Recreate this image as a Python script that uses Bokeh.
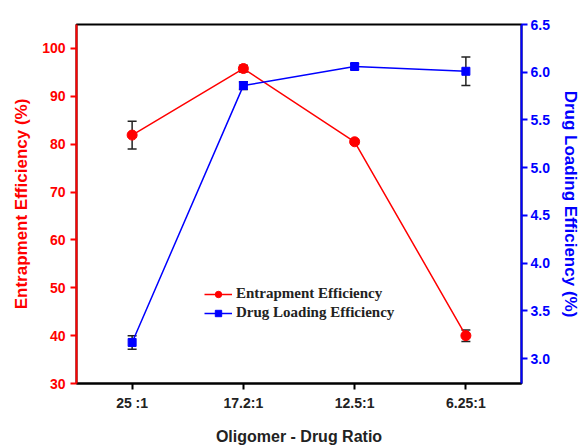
from bokeh.plotting import figure
from bokeh.models import Range1d, LinearAxis, FixedTicker, PrintfTickFormatter, Legend, LegendItem, Whisker, ColumnDataSource, TeeHead
from bokeh.embed import file_html
from bokeh.resources import INLINE

ratios = ["25 :1", "17.2:1", "12.5:1", "6.25:1"]
xpos = [1, 2, 3, 4]
entrap = [81.9, 95.8, 80.5, 40.0]
entrap_err = [2.9, 0.7, 0.5, 1.2]
loading = [3.17, 5.86, 6.06, 6.01]
loading_err = [0.07, 0.04, 0.03, 0.15]

p = figure(width=582, height=447, output_backend="svg", toolbar_location=None,
           x_range=Range1d(0.5, 4.5), y_range=Range1d(30, 105))
p.min_border_left = 76
p.min_border_right = 58
p.min_border_top = 24
p.min_border_bottom = 63
p.xgrid.visible = False
p.ygrid.visible = False
p.outline_line_color = "black"
p.outline_line_width = 2
p.extra_y_ranges = {"dl": Range1d(2.74, 6.5)}

FONT = "Liberation Sans"

# x axis
xa = p.xaxis[0]
xa.ticker = FixedTicker(ticks=xpos)
xa.major_label_overrides = {x: r for x, r in zip(xpos, ratios)}
xa.axis_label = "Oligomer - Drug Ratio"
xa.axis_line_width = 2
xa.axis_line_color = "black"
xa.major_tick_in = 0
xa.major_tick_out = 6
xa.major_tick_line_width = 2
xa.minor_tick_line_color = None
xa.major_label_text_font = FONT
xa.major_label_text_font_style = "bold"
xa.major_label_text_font_size = "14px"
xa.major_label_text_color = "#222222"
xa.axis_label_text_font = FONT
xa.axis_label_text_font_style = "bold"
xa.axis_label_text_font_size = "16px"
xa.axis_label_text_color = "#222222"
xa.axis_label_standoff = 14

# left axis
ya = p.yaxis[0]
ya.ticker = FixedTicker(ticks=[30, 40, 50, 60, 70, 80, 90, 100])
ya.axis_label = "Entrapment Efficiency (%)"
ya.axis_line_width = 2
ya.axis_line_color = "red"
ya.major_tick_line_color = "red"
ya.major_tick_line_width = 2
ya.major_tick_in = 0
ya.major_tick_out = 6
ya.minor_tick_line_color = None
ya.major_label_text_font = FONT
ya.major_label_text_font_style = "bold"
ya.major_label_text_font_size = "14px"
ya.major_label_text_color = "red"
ya.axis_label_text_font = FONT
ya.axis_label_text_font_style = "bold"
ya.axis_label_text_font_size = "17px"
ya.axis_label_text_color = "red"
ya.axis_label_standoff = 8

# right axis
ra = LinearAxis(y_range_name="dl")
ra.ticker = FixedTicker(ticks=[3.0, 3.5, 4.0, 4.5, 5.0, 5.5, 6.0, 6.5])
ra.formatter = PrintfTickFormatter(format="%.1f")
ra.axis_label = "Drug Loading Efficiency (%)"
ra.axis_line_width = 2
ra.axis_line_color = "blue"
ra.major_tick_line_color = "blue"
ra.major_tick_line_width = 2
ra.major_tick_in = 0
ra.major_tick_out = 6
ra.minor_tick_line_color = None
ra.major_label_standoff = 3
ra.major_label_text_font = FONT
ra.major_label_text_font_style = "bold"
ra.major_label_text_font_size = "14px"
ra.major_label_text_color = "blue"
ra.axis_label_text_font = FONT
ra.axis_label_text_font_style = "bold"
ra.axis_label_text_font_size = "17px"
ra.axis_label_text_color = "blue"
ra.axis_label_standoff = 8
p.add_layout(ra, "right")

src_e = ColumnDataSource(dict(x=xpos, y=entrap,
                              lo=[v - e for v, e in zip(entrap, entrap_err)],
                              hi=[v + e for v, e in zip(entrap, entrap_err)]))
src_d = ColumnDataSource(dict(x=xpos, y=loading,
                              lo=[v - e for v, e in zip(loading, loading_err)],
                              hi=[v + e for v, e in zip(loading, loading_err)]))

le = p.line("x", "y", source=src_e, line_color="red", line_width=1.5)
me = p.scatter("x", "y", source=src_e, marker="circle", size=10, fill_color="red", line_color="red")
ld = p.line("x", "y", source=src_d, line_color="blue", line_width=1.5, y_range_name="dl")
md = p.scatter("x", "y", source=src_d, marker="square", size=8, fill_color="blue", line_color="blue", y_range_name="dl")

we = Whisker(source=src_e, base="x", lower="lo", upper="hi", line_color="#222222", line_width=1.5,
             upper_head=TeeHead(size=9, line_color="#222222", line_width=1.5),
             lower_head=TeeHead(size=9, line_color="#222222", line_width=1.5))
wd = Whisker(source=src_d, base="x", lower="lo", upper="hi", line_color="#222222", line_width=1.5,
             y_range_name="dl",
             upper_head=TeeHead(size=9, line_color="#222222", line_width=1.5),
             lower_head=TeeHead(size=9, line_color="#222222", line_width=1.5))
p.add_layout(we)
p.add_layout(wd)

legend = Legend(items=[LegendItem(label="Entrapment Efficiency", renderers=[le, me]),
                       LegendItem(label="Drug Loading Efficiency", renderers=[ld, md])],
                location=(128, 62))
legend.border_line_color = None
legend.background_fill_alpha = 0
legend.label_text_font = "Liberation Serif"
legend.label_text_font_style = "bold"
legend.label_text_font_size = "15px"
legend.label_text_color = "#222222"
legend.glyph_width = 28
legend.glyph_height = 16
legend.label_height = 16
legend.spacing = 2
legend.padding = 4
legend.label_standoff = 4
p.add_layout(legend, "center")

open("out.html", "w").write(file_html(p, INLINE))
